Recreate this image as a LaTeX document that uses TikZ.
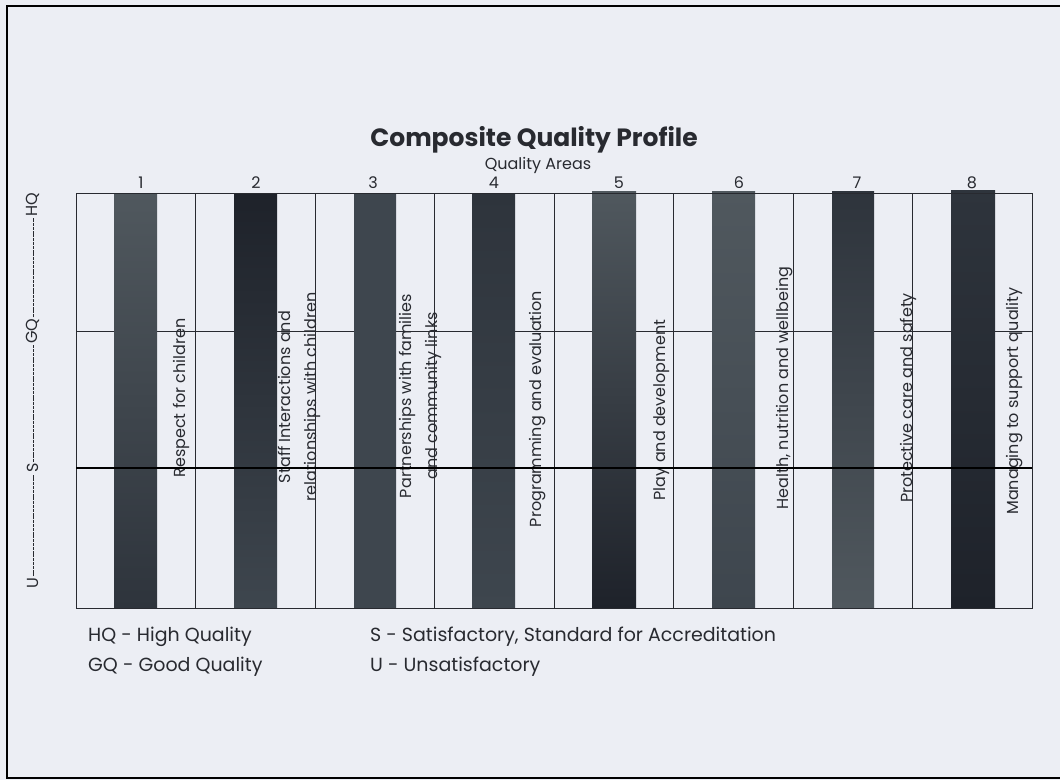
\documentclass[tikz,border=0pt]{standalone}
\usepackage{fontspec}
\setmainfont{Poppins}
\definecolor{bg}{RGB}{236,238,244}
\definecolor{ink}{RGB}{40,42,48}
\definecolor{gA}{RGB}{30,34,42}
\definecolor{gB}{RGB}{46,52,60}
\definecolor{gC}{RGB}{62,70,78}
\definecolor{gD}{RGB}{80,88,94}
\begin{document}
\begin{tikzpicture}[x=1pt,y=-1pt,
  vlab/.style={rotate=90,font=\fontsize{16}{26}\selectfont,text=ink,align=center,inner sep=0pt},
  axlab/.style={rotate=90,font=\fontsize{16}{18}\selectfont,text=ink,inner sep=1pt},
  num/.style={font=\fontsize{16}{18}\selectfont,text=ink,inner sep=0pt},
  leg/.style={font=\fontsize{19}{21}\selectfont,text=ink,anchor=west,inner sep=0pt},
  grid/.style={draw=ink,line width=0.8pt},
  axline/.style={draw=ink,line width=0.6pt,dash pattern=on 3pt off 0.8pt}]
\useasboundingbox (0,0) rectangle (1060,780);
\fill[bg] (0,0) rectangle (1060,780);
% outer frame
\draw[line width=1.8pt,black] (1062,6) -- (7,6) -- (7,778) -- (1062,778);
% title
\node[font=\bfseries\fontsize{25}{28}\selectfont,text=ink,inner sep=0pt] (title) at (534,140) {Composite Quality Profile};
\node[font=\fontsize{16}{18}\selectfont,text=ink,inner sep=0pt] (sub) at (538,165) {Quality Areas};
% column numbers
\foreach \i/\x in {1/141,2/256,3/373,4/494,5/619,6/739,7/857,8/972}
  \node[num] (n\i) at (\x,183) {\i};
% GQ line
\draw[grid,line width=0.6pt] (76,331) -- (1032,331);
% bars
\shade[top color=gD,middle color=gC,bottom color=gB] (114,193) rectangle (157,608);
\shade[top color=gA,middle color=gC,bottom color=gC] (234,193) rectangle (277,608);
\shade[top color=gC,middle color=gA,bottom color=gC] (354,193) rectangle (396,608);
\shade[top color=gB,middle color=gD,bottom color=gC] (472,193) rectangle (515,608);
\shade[top color=gD,middle color=gB,bottom color=gA] (592,191) rectangle (636,608);
\shade[top color=gD,middle color=gA,bottom color=gC] (712,191) rectangle (755,608);
\shade[top color=gB,middle color=gD,bottom color=gD] (832,191) rectangle (874,608);
\shade[top color=gB,middle color=gD,bottom color=gA] (951,190) rectangle (995,608);
% vertical labels
\node[vlab] (l1) at (181,398) {Respect for children};
\node[vlab] (l2) at (299,397) {Staff Interactions and\\relationships with children};
\node[vlab] (l3) at (420,396) {Partnerships with families\\and community links};
\node[vlab] (l4) at (538,409) {Programming and evaluation};
\node[vlab] (l5) at (662,410) {Play and development};
\node[vlab] (l6) at (785,388) {Health, nutrition and wellbeing};
\node[vlab] (l7) at (908,398) {Protective care and safety};
\node[vlab] (l8) at (1015,401) {Managing to support quality};
% chart frame and dividers
\draw[grid] (76,193) rectangle (1032,608);
\foreach \i in {1,...,7}
  \draw[grid] ({76+119.5*\i},193) -- ({76+119.5*\i},608);
% S line
\draw[black,line width=2.6pt] (76,468) -- (1032,468);
% left axis
\node[axlab] (hq) at (33,205) {HQ};
\node[axlab] (gq) at (33,331) {GQ};
\node[axlab] (s) at (33,468) {S};
\node[axlab] (u) at (33,583) {U};
\draw[axline] (u) -- (s);
\draw[axline] (s) -- (gq);
\draw[axline] (gq) -- (hq);
% legend
\node[leg] (hqleg) at (88,637) {HQ - High Quality};
\node[leg] (gqleg) at (88,667) {GQ - Good Quality};
\node[leg] (sleg) at (370,637) {S - Satisfactory, Standard for Accreditation};
\node[leg] (uleg) at (370,667) {U - Unsatisfactory};
\end{tikzpicture}
\end{document}
